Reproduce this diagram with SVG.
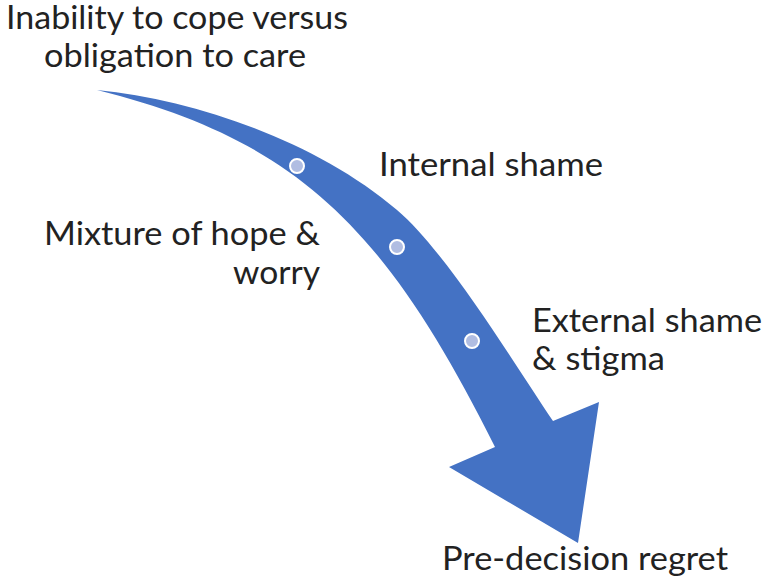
<svg xmlns="http://www.w3.org/2000/svg" width="763" height="578" viewBox="0 0 763 578">
  <style>
    .lbl { font-family: Lato, "Liberation Sans", "DejaVu Sans", sans-serif; font-size: 33.5px; fill: #222222; }
    .arrow { fill: #4472C4; }
    .dot { fill: #B0BDE2; stroke: #FFFFFF; stroke-width: 2; }
  </style>
  <rect width="763" height="578" fill="#FFFFFF"/>
  <g id="connectors">
    <path id="arrow" class="arrow" d="M97,90 C197,100 317,142 397,210 C447,252.5 513,362 553,421 L599,402 L578,543 L449,467 L495,447 C385,227 297,140 97,90 Z"/>
  </g>
  <g id="dot-1"><circle class="dot" cx="297" cy="166" r="7"/></g>
  <g id="dot-2"><circle class="dot" cx="397" cy="247" r="7"/></g>
  <g id="dot-3"><circle class="dot" cx="472" cy="341" r="7"/></g>
  <g id="node-inability">
    <text class="lbl" x="177" y="29" text-anchor="middle" textLength="342" lengthAdjust="spacingAndGlyphs">Inability to cope versus</text>
    <text class="lbl" x="175" y="67" text-anchor="middle" textLength="262" lengthAdjust="spacingAndGlyphs">obligation to care</text>
  </g>
  <g id="node-mixture">
    <text class="lbl" x="320" y="245" text-anchor="end" textLength="276" lengthAdjust="spacingAndGlyphs">Mixture of hope &amp;</text>
    <text class="lbl" x="320" y="284" text-anchor="end" textLength="87" lengthAdjust="spacingAndGlyphs">worry</text>
  </g>
  <g id="node-internal">
    <text class="lbl" x="379" y="176" textLength="224" lengthAdjust="spacingAndGlyphs">Internal shame</text>
  </g>
  <g id="node-external">
    <text class="lbl" x="532" y="332" textLength="230" lengthAdjust="spacingAndGlyphs">External shame</text>
    <text class="lbl" x="532" y="370" textLength="133" lengthAdjust="spacingAndGlyphs">&amp; stigma</text>
  </g>
  <g id="node-predecision">
    <text class="lbl" x="585" y="570" text-anchor="middle" textLength="286" lengthAdjust="spacingAndGlyphs">Pre-decision regret</text>
  </g>
</svg>
